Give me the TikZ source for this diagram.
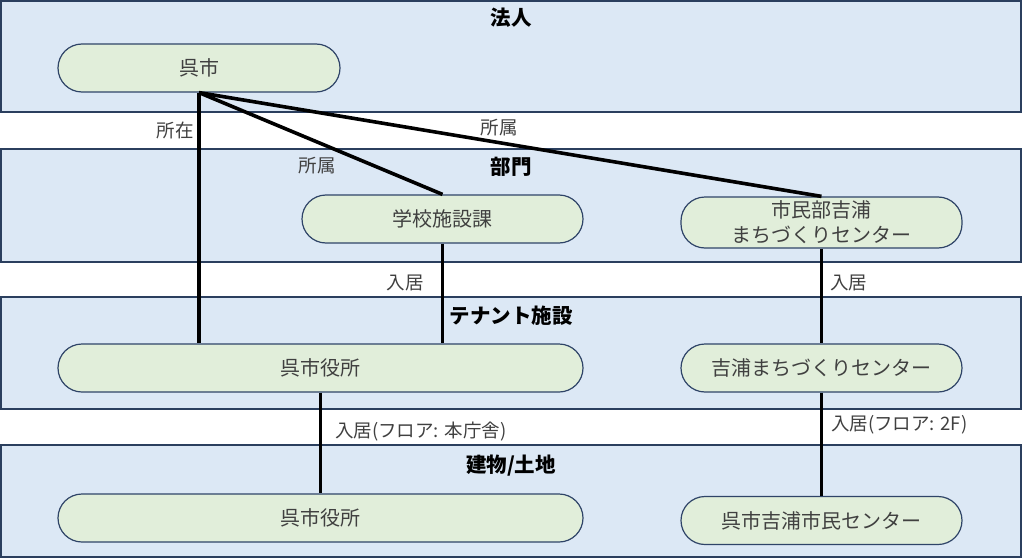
\documentclass[tikz,border=0pt]{standalone}
\usepackage{fontspec}
\setmainfont{Noto Sans CJK JP}
\definecolor{bandfill}{HTML}{DCE8F5}
\definecolor{banddraw}{HTML}{2B3F5E}
\definecolor{nodefill}{HTML}{E1EEDA}
\definecolor{nodedraw}{HTML}{2F4468}
\definecolor{txt}{HTML}{404040}
\tikzset{
  band/.style={draw=banddraw, fill=bandfill, line width=1.3pt},
  bandtitle/.style={font=\fontsize{20.5}{24}\selectfont\bfseries, text=black, inner sep=0pt},
  ent/.style={draw=nodedraw, fill=nodefill, line width=1.2pt, rounded corners=24pt,
    minimum height=48pt, inner sep=0pt, text=txt, align=center,
    font=\fontsize{20}{25}\selectfont},
  rel/.style={line width=3.6pt, black},
  lbl/.style={text=txt, inner sep=0pt, font=\fontsize{18.5}{22}\selectfont}
}
\begin{document}
\begin{tikzpicture}[x=1pt,y=-1pt]
\useasboundingbox (0,0) rectangle (1024,559);
% bands
\draw[band] (1,1) rectangle (1021,112);
\draw[band] (1,149) rectangle (1021,262);
\draw[band] (1,297) rectangle (1021,409);
\draw[band] (1,445) rectangle (1021,557);
\node[bandtitle] (t1) at (511,18) {法人};
\node[bandtitle] (t2) at (511,167) {部門};
\node[bandtitle] (t3) at (511,316) {テナント施設};
\node[bandtitle] (t4) at (511,466) {建物/土地};
% nodes
\node[ent, minimum width=282pt] (kure) at (199,68) {呉市};
\node[ent, minimum width=281pt] (gakko) at (442.5,219) {学校施設課};
\node[ent, minimum width=281pt, minimum height=51pt] (shimin) at (821.5,222.5) {市民部吉浦\\まちづくりセンター};
\node[ent, minimum width=525pt] (yakusho) at (320.5,368) {呉市役所};
\node[ent, minimum width=281pt] (yoshiura) at (821.5,368) {吉浦まちづくりセンター};
\node[ent, minimum width=525pt] (yakushoB) at (320.5,518) {呉市役所};
\node[ent, minimum width=281pt] (kuminB) at (821.5,520.5) {呉市吉浦市民センター};
% connectors
\draw[rel] (kure.south) -- (kure.south |- yakusho.north);
\draw[rel] (kure.south) -- (gakko.north);
\draw[rel] (kure.south) -- (shimin.north);
\draw[rel] (gakko.south) -- (gakko.south |- yakusho.north);
\draw[rel] (shimin.south) -- (yoshiura.north);
\draw[rel] (yakusho.south) -- (yakushoB.north);
\draw[rel] (yoshiura.south) -- (kuminB.north);
% labels
\node[lbl, anchor=east] (l1) at (194,130) {所在};
\node[lbl] (l2) at (317,166) {所属};
\node[lbl] (l3) at (499,128) {所属};
\node[lbl, anchor=east] (l4) at (424,283) {入居};
\node[lbl, anchor=west] (l5) at (830,283) {入居};
\node[lbl, anchor=west] (l6) at (335,432) {入居(フロア: 本庁舎)};
\node[lbl, anchor=west] (l7) at (831,425) {入居(フロア: 2F)};
\end{tikzpicture}
\end{document}
